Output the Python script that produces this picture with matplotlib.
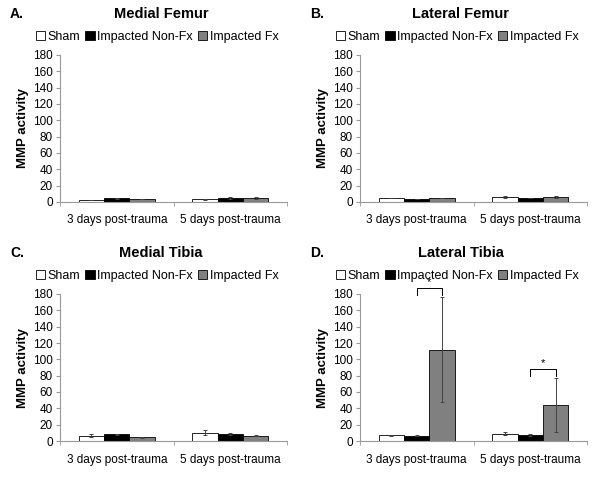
import matplotlib as mpl
import matplotlib.pyplot as plt
import numpy as np

mpl.rcParams['font.family'] = ['Liberation Sans', 'DejaVu Sans']

# data
days = ['3 days post-trauma', '5 days post-trauma']
groups = ['Sham', 'Impacted Non-Fx', 'Impacted Fx']
colors = ['white', 'black', '#808080']

panels = ['A.', 'B.', 'C.', 'D.']
titles = ['Medial Femur', 'Lateral Femur', 'Medial Tibia', 'Lateral Tibia']

# values[panel][group] = [3 days, 5 days]
values = [
    [[2.5, 3.5], [4.5, 5.0], [3.5, 5.0]],
    [[5.0, 6.5], [3.5, 5.0], [5.0, 6.0]],
    [[6.5, 10.0], [8.0, 8.5], [4.5, 6.5]],
    [[7.0, 9.0], [6.5, 7.5], [112.0, 44.5]],
]
errors = [
    [[0.5, 0.7], [0.5, 0.8], [0.3, 0.8]],
    [[0.5, 1.0], [0.3, 0.5], [0.5, 0.8]],
    [[1.5, 3.0], [1.0, 1.5], [0.5, 0.5]],
    [[0.8, 1.5], [0.5, 0.8], [64.5, 33.0]],
]
# significance brackets for panel D: (day index, bracket top, leg bottom)
sig = [(0, 187, 179), (1, 88, 80)]

W, H = 600, 478
fig = plt.figure(figsize=(W / 100, H / 100), dpi=100)

width = 0.223
x = np.arange(len(days))

for i in range(4):
    col, row = i % 2, i // 2
    ox, oy = col * 300, row * 239
    ax = fig.add_axes([(ox + 60) / W, 1 - (oy + 202) / H, 227 / W, 147 / H])

    for g in range(3):
        ax.bar(x + (g - 1) * width, values[i][g], width, yerr=errors[i][g],
               color=colors[g], edgecolor='black', linewidth=0.6,
               error_kw=dict(ecolor='#444444', elinewidth=0.7, capsize=1.5,
                             capthick=0.7),
               label=groups[g], zorder=2)

    ax.set_xlim(-0.5, 1.5)
    ax.set_ylim(0, 180)
    ax.set_yticks(range(0, 181, 20))
    ax.set_xticks(x)
    ax.set_xticklabels(days)
    ax.set_xticks([-0.5, 0.5, 1.5], minor=True)
    ax.tick_params(axis='x', which='major', length=0, pad=9, labelsize=8.5)
    ax.tick_params(axis='x', which='minor', length=3, color='#999999')
    ax.tick_params(axis='y', length=3, color='#999999', labelsize=8.5, pad=2)
    for s in ['top', 'right']:
        ax.spines[s].set_visible(False)
    for s in ['left', 'bottom']:
        ax.spines[s].set_color('#999999')
        ax.spines[s].set_linewidth(0.8)
    ax.set_ylabel('MMP activity', fontweight='bold', fontsize=9.5, labelpad=3)

    fig.text((ox + 10) / W, 1 - (oy + 14) / H, panels[i], fontweight='bold',
             fontsize=10, va='center', ha='left')
    fig.text((ox + 161) / W, 1 - (oy + 14) / H, titles[i], fontweight='bold',
             fontsize=10.5, va='center', ha='center')
    ax.legend(loc='center', bbox_to_anchor=((ox + 157) / W, 1 - (oy + 37) / H),
              bbox_transform=fig.transFigure, ncol=3, frameon=False,
              fontsize=9, handlelength=0.75, handleheight=0.75,
              handletextpad=0.2, columnspacing=0.4, borderpad=0)

    if i == 3:
        for d, top, bot in sig:
            x1, x2 = x[d], x[d] + width
            ax.plot([x1, x1, x2, x2], [bot, top, top, bot], color='black',
                    linewidth=0.7, clip_on=False, zorder=3)
            ax.text((x1 + x2) / 2, top + 1, '*', ha='center', va='bottom',
                    fontsize=8, clip_on=False)

fig.savefig('out.png', dpi=100)
